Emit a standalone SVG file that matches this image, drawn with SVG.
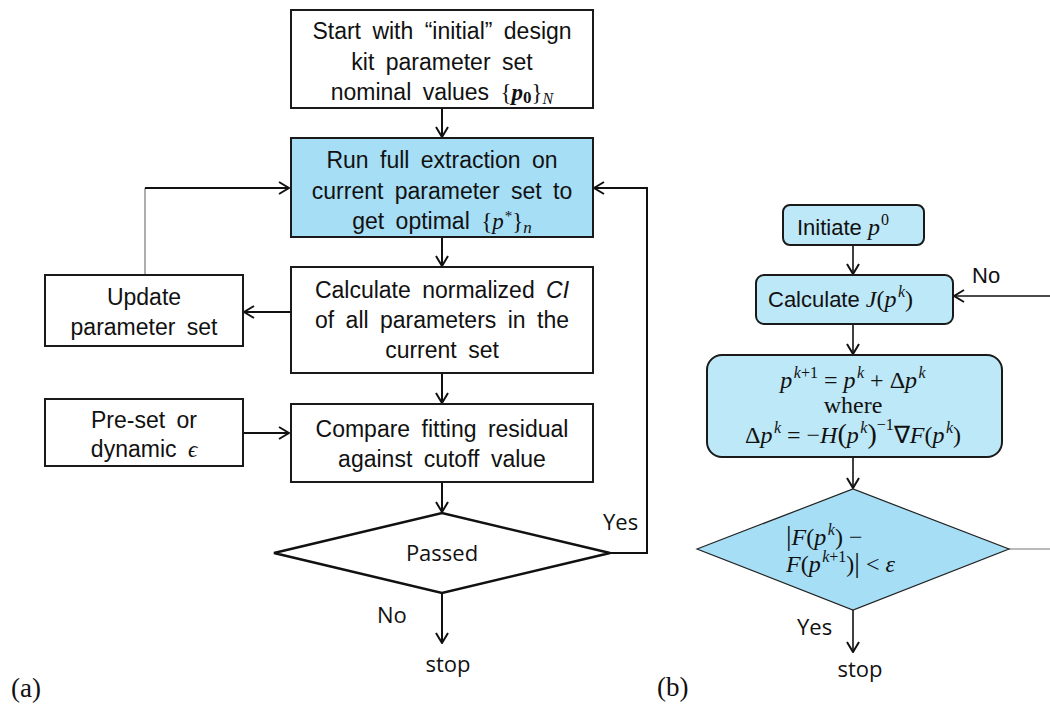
<svg xmlns="http://www.w3.org/2000/svg" width="1050" height="708" viewBox="0 0 1050 708">
<style>
.box{fill:#ffffff;stroke:#1a1a1a;stroke-width:2}
.bluebox{fill:#a6def5;stroke:#1a1a1a;stroke-width:2}
.rbox{fill:#bde8f7;stroke:#1a1a1a;stroke-width:2}
.t{font-family:"Liberation Sans",Arial,sans-serif;font-size:23px;fill:#111;text-anchor:middle;word-spacing:5px}
.tr{font-family:"Liberation Sans",Arial,sans-serif;font-size:22px;fill:#111}
.lbl{font-family:"Open Sans","Noto Sans",sans-serif;font-size:22px;fill:#111}
.m{font-family:"Liberation Serif","Times New Roman",serif;font-style:italic}
.mr{font-family:"Liberation Serif","Times New Roman",serif;font-style:normal}
.mt{font-family:"Liberation Serif","Times New Roman",serif;font-size:24px;fill:#111}
.cap{font-family:"Liberation Serif","Times New Roman",serif;font-size:27px;fill:#111}
.c{fill:none;stroke:#111;stroke-width:2}
.c1{fill:none;stroke:#111;stroke-width:1.6}
</style>
<defs>
<marker id="ah" viewBox="0 0 12 14" refX="11" refY="7" markerWidth="12" markerHeight="14" markerUnits="userSpaceOnUse" orient="auto">
<path d="M1,1 L11,7 L1,13" fill="none" stroke="#111" stroke-width="2"/>
</marker>
</defs>

<g id="connectors">
<line class="c" x1="442" y1="108" x2="442" y2="137" marker-end="url(#ah)"/>
<line class="c" x1="442" y1="237" x2="442" y2="266" marker-end="url(#ah)"/>
<line class="c" x1="442" y1="373" x2="442" y2="403" marker-end="url(#ah)"/>
<line class="c" x1="442" y1="482" x2="442" y2="512" marker-end="url(#ah)"/>
<line class="c" x1="442" y1="594" x2="442" y2="643" marker-end="url(#ah)"/>
<line class="c" x1="290" y1="312" x2="244" y2="312" marker-end="url(#ah)"/>
<line class="c" x1="243" y1="433" x2="289" y2="433" marker-end="url(#ah)"/>
<line x1="145" y1="275" x2="145" y2="188" stroke="#777" stroke-width="1.2"/>
<line class="c" x1="145" y1="188" x2="289" y2="188" marker-end="url(#ah)"/>
<polyline class="c" points="610,553 647,553 647,188 594,188" marker-end="url(#ah)"/>
<line class="c1" x1="853" y1="245" x2="853" y2="274" marker-end="url(#ah)"/>
<line class="c1" x1="853" y1="324" x2="853" y2="354" marker-end="url(#ah)"/>
<line class="c1" x1="853" y1="457" x2="853" y2="488" marker-end="url(#ah)"/>
<line class="c1" x1="853" y1="610" x2="853" y2="652" marker-end="url(#ah)"/>
<line class="c1" x1="1050" y1="296" x2="954" y2="296" marker-end="url(#ah)"/>
<line x1="1009" y1="549" x2="1050" y2="549" stroke="#777" stroke-width="1.2"/>
</g>

<g id="n_start">
<rect class="box" x="291" y="10" width="302" height="98"/>
<text class="t" x="442" y="39">Start with “initial” design</text>
<text class="t" x="442" y="70">kit parameter set</text>
<text class="t" x="442" y="100">nominal values <tspan class="mr">{</tspan><tspan class="m" font-weight="bold">p</tspan><tspan class="mr" font-weight="bold" font-size="17" dy="3">0</tspan><tspan class="mr" dy="-3">}</tspan><tspan class="m" font-size="16" dy="4">N</tspan></text>
</g>

<g id="n_run">
<rect class="bluebox" x="291" y="138" width="302" height="99"/>
<text class="t" x="442" y="168">Run full extraction on</text>
<text class="t" x="442" y="199">current parameter set to</text>
<text class="t" x="442" y="229">get optimal <tspan class="mr">{</tspan><tspan class="m">p</tspan><tspan class="mr" font-size="15" dx="1" dy="-8">*</tspan><tspan class="mr" dy="8">}</tspan><tspan class="m" font-size="17" dy="4">n</tspan></text>
</g>

<g id="n_calc">
<rect class="box" x="291" y="267" width="302" height="106"/>
<text class="t" x="442" y="298">Calculate normalized <tspan font-style="italic">CI</tspan></text>
<text class="t" x="442" y="328">of all parameters in the</text>
<text class="t" x="442" y="358">current set</text>
</g>

<g id="n_update">
<rect class="box" x="45" y="275" width="198" height="71"/>
<text class="t" x="144" y="305">Update</text>
<text class="t" x="144" y="335">parameter set</text>
</g>

<g id="n_preset">
<rect class="box" x="45" y="399" width="198" height="67"/>
<text class="t" x="144" y="428">Pre-set or</text>
<text class="t" x="144" y="457">dynamic <tspan class="m">ϵ</tspan></text>
</g>

<g id="n_compare">
<rect class="box" x="291" y="404" width="302" height="78"/>
<text class="t" x="442" y="437">Compare fitting residual</text>
<text class="t" x="442" y="467">against cutoff value</text>
</g>

<g id="n_passed">
<polygon points="274,553 442,513 610,553 442,593" fill="#fff" stroke="#111" stroke-width="2.5"/>
<text class="lbl" x="442" y="561" text-anchor="middle">Passed</text>
</g>

<g id="labels_a">
<text class="lbl" x="603" y="530">Yes</text>
<text class="lbl" x="377" y="623">No</text>
<text class="lbl" x="448" y="672" text-anchor="middle">stop</text>
<text class="cap" x="11" y="697">(a)</text>
</g>

<g id="n_init">
<rect class="rbox" x="783" y="205" width="141" height="40" rx="7"/>
<text class="tr" x="797" y="235">Initiate <tspan class="m" font-size="24">p</tspan><tspan class="mr" font-size="16" dx="1" dy="-10">0</tspan></text>
</g>

<g id="n_calcJ">
<rect class="rbox" x="756" y="275" width="197" height="49" rx="8"/>
<text class="tr" x="768" y="307">Calculate <tspan class="m" font-size="24">J</tspan><tspan class="mr" font-size="24">(</tspan><tspan class="m" font-size="24">p</tspan><tspan class="m" font-size="16" dx="1.5" dy="-10">k</tspan><tspan class="mr" font-size="24" dy="10">)</tspan></text>
</g>

<g id="n_update_b">
<rect class="rbox" x="707" y="355" width="295" height="102" rx="15"/>
<text class="mt" x="853" y="388" text-anchor="middle"><tspan class="m">p</tspan><tspan class="m" font-size="16" dx="1.5" dy="-10">k</tspan><tspan class="mr" font-size="16">+1</tspan><tspan class="mr" dy="10"> = </tspan><tspan class="m">p</tspan><tspan class="m" font-size="16" dx="1.5" dy="-10">k</tspan><tspan class="mr" dy="10"> + Δ</tspan><tspan class="m">p</tspan><tspan class="m" font-size="16" dx="1.5" dy="-10">k</tspan></text>
<text class="mt" x="853" y="413" text-anchor="middle">where</text>
<text class="mt" x="853" y="443" text-anchor="middle"><tspan class="mr">Δ</tspan><tspan class="m">p</tspan><tspan class="m" font-size="16" dx="1.5" dy="-10">k</tspan><tspan class="mr" dy="10"> = −</tspan><tspan class="m">H</tspan><tspan class="mr" font-size="28">(</tspan><tspan class="m">p</tspan><tspan class="m" font-size="16" dx="1.5" dy="-10">k</tspan><tspan class="mr" font-size="28" dy="10">)</tspan><tspan class="mr" font-size="16" dy="-13">−1</tspan><tspan class="mr" dy="13">∇</tspan><tspan class="m">F</tspan><tspan class="mr">(</tspan><tspan class="m">p</tspan><tspan class="m" font-size="16" dx="1.5" dy="-10">k</tspan><tspan class="mr" dy="10">)</tspan></text>
</g>

<g id="n_check">
<polygon points="697,549 853,489 1009,549 853,610" fill="#a6def5" stroke="#222" stroke-width="1.2"/>
<text class="mt" x="786" y="545"><tspan class="mr" font-size="28">|</tspan><tspan class="m">F</tspan><tspan class="mr">(</tspan><tspan class="m">p</tspan><tspan class="m" font-size="16" dx="1.5" dy="-10">k</tspan><tspan class="mr" dy="10">) −</tspan></text>
<text class="mt" x="786" y="572"><tspan class="m">F</tspan><tspan class="mr">(</tspan><tspan class="m">p</tspan><tspan class="m" font-size="16" dx="1.5" dy="-10">k</tspan><tspan class="mr" font-size="16">+1</tspan><tspan class="mr" dy="10">)</tspan><tspan class="mr" font-size="28">|</tspan><tspan class="mr"> &lt; </tspan><tspan class="m">ε</tspan></text>
</g>

<g id="labels_b">
<text class="tr" x="972" y="283">No</text>
<text class="lbl" x="797" y="635">Yes</text>
<text class="lbl" x="860" y="677" text-anchor="middle">stop</text>
<text class="cap" x="657" y="696">(b)</text>
</g>
</svg>
